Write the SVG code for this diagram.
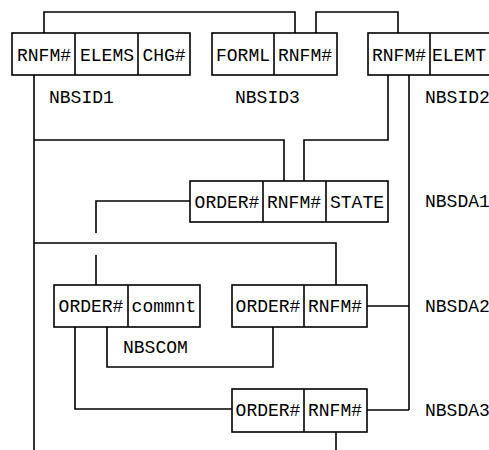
<svg xmlns="http://www.w3.org/2000/svg" width="489" height="450" viewBox="0 0 489 450">
<style>
.box{fill:#fff;stroke:#000;stroke-width:1.6}
.ln{fill:none;stroke:#000;stroke-width:1.6}
text{font-family:"Liberation Mono","DejaVu Sans Mono",monospace;font-size:18px;fill:#000}
.c{text-anchor:middle}
</style>
<rect width="489" height="450" fill="#fff"/>
<g id="connectors">
<polyline class="ln" points="44,33 44,12 295,12 295,33"/>
<polyline class="ln" points="316,33 316,12 398,12 398,33"/>
<line class="ln" x1="34" y1="75" x2="34" y2="450"/>
<polyline class="ln" points="34,140 284,140 284,181"/>
<polyline class="ln" points="388,75 388,140 304,140 304,181"/>
<polyline class="ln" points="34,243 336,243 336,285"/>
<polyline class="ln" points="190,201 96,201 96,233"/>
<line class="ln" x1="96" y1="255" x2="96" y2="285"/>
<line class="ln" x1="409" y1="75" x2="409" y2="410"/>
<line class="ln" x1="367" y1="306" x2="409" y2="306"/>
<line class="ln" x1="367" y1="410" x2="409" y2="410"/>
<polyline class="ln" points="75,327 75,409 232,409"/>
<polyline class="ln" points="107,327 107,367 273,367 273,327"/>
<line class="ln" x1="336" y1="432" x2="336" y2="450"/>
</g>
<g id="NBSID1">
<rect class="box" x="12" y="33" width="178" height="42"/>
<line class="ln" x1="75" y1="33" x2="75" y2="75"/>
<line class="ln" x1="138" y1="33" x2="138" y2="75"/>
<text class="c" x="44" y="61">RNFM#</text>
<text class="c" x="107" y="61">ELEMS</text>
<text class="c" x="164" y="61">CHG#</text>
<text x="49" y="103">NBSID1</text>
</g>
<g id="NBSID3">
<rect class="box" x="212" y="33" width="125" height="42"/>
<line class="ln" x1="274" y1="33" x2="274" y2="75"/>
<text class="c" x="243" y="61">FORML</text>
<text class="c" x="305" y="61">RNFM#</text>
<text x="235" y="103">NBSID3</text>
</g>
<g id="NBSID2">
<rect class="box" x="368" y="33" width="130" height="42"/>
<line class="ln" x1="430" y1="33" x2="430" y2="75"/>
<text class="c" x="399" y="61">RNFM#</text>
<text class="c" x="459" y="61">ELEMT</text>
<text x="425" y="103">NBSID2</text>
</g>
<g id="NBSDA1">
<rect class="box" x="190" y="181" width="198" height="41"/>
<line class="ln" x1="263" y1="181" x2="263" y2="222"/>
<line class="ln" x1="326" y1="181" x2="326" y2="222"/>
<text class="c" x="227" y="208">ORDER#</text>
<text class="c" x="294" y="208">RNFM#</text>
<text class="c" x="357" y="208">STATE</text>
<text x="425" y="207">NBSDA1</text>
</g>
<g id="NBSCOM">
<rect class="box" x="54" y="285" width="146" height="42"/>
<line class="ln" x1="128" y1="285" x2="128" y2="327"/>
<text class="c" x="91" y="312">ORDER#</text>
<text class="c" x="164" y="312">commnt</text>
<text x="123" y="353">NBSCOM</text>
</g>
<g id="NBSDA2">
<rect class="box" x="232" y="285" width="135" height="42"/>
<line class="ln" x1="304" y1="285" x2="304" y2="327"/>
<text class="c" x="268" y="312">ORDER#</text>
<text class="c" x="335" y="312">RNFM#</text>
<text x="425" y="312">NBSDA2</text>
</g>
<g id="NBSDA3">
<rect class="box" x="232" y="389" width="135" height="43"/>
<line class="ln" x1="304" y1="389" x2="304" y2="432"/>
<text class="c" x="268" y="416">ORDER#</text>
<text class="c" x="335" y="416">RNFM#</text>
<text x="425" y="416">NBSDA3</text>
</g>
</svg>
